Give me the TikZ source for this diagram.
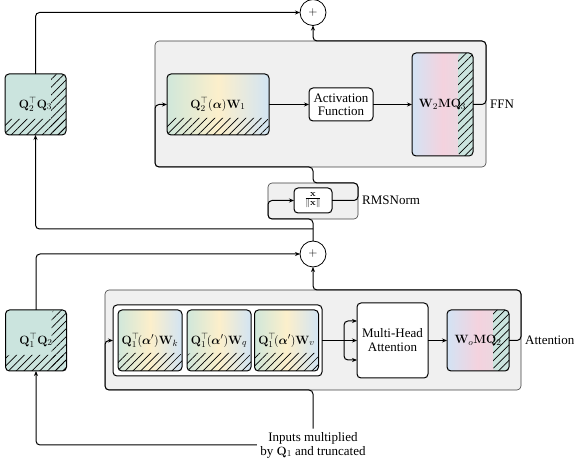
\documentclass[tikz,border=0pt]{standalone}
\usepackage{amsmath,bm}
\usepackage[no-math]{fontspec}
\setmainfont{Liberation Serif}
\usetikzlibrary{arrows.meta,patterns.meta,calc}
\definecolor{tealc}{HTML}{CBE4DE}
\definecolor{gA}{HTML}{D0E7DA}
\definecolor{gB}{HTML}{FCEFCB}
\definecolor{gC}{HTML}{D2E4F3}
\definecolor{pA}{HTML}{D3E3F4}
\definecolor{pB}{HTML}{F4D2DE}
\definecolor{pC}{HTML}{E3DCE2}
\definecolor{greyfill}{HTML}{F0F0F0}
\tikzset{
  sig/.style={line width=1pt, rounded corners=4pt},
  box/.style={draw, line width=1pt, rounded corners=4pt, inner sep=0pt, outer sep=0pt},
  greybox/.style={draw=black!75, line width=0.6pt, fill=greyfill, rounded corners=4pt, inner sep=0pt, outer sep=0pt},
  hatch/.style={pattern={Lines[angle=45,distance=5.5pt,line width=0.7pt]}},
  yelgrad/.style={left color=gA, right color=gC, middle color=gB},
  pinkgrad/.style={left color=pA, right color=pC, middle color=pB},
  bothatch/.style={path picture={\fill[hatch] (path picture bounding box.south west) rectangle ([yshift=#1]path picture bounding box.south east);}},
  righthatch/.style={path picture={\fill[tealc] ([xshift=-#1]path picture bounding box.north east) rectangle (path picture bounding box.south east);
     \fill[hatch] ([xshift=-#1]path picture bounding box.north east) rectangle (path picture bounding box.south east);}},
  lhatch/.style={fill=tealc, path picture={\fill[hatch] (path picture bounding box.south west) rectangle ([yshift=16pt]path picture bounding box.south east);
     \fill[hatch] ([xshift=-15pt]path picture bounding box.north east) rectangle (path picture bounding box.south east);}},
  plus/.style={draw, circle, line width=0.8pt, minimum size=26pt, inner sep=0pt, outer sep=0pt, fill=white},
  lbl/.style={anchor=west, inner sep=0pt}
}
\begin{document}
\begin{tikzpicture}[x=1pt,y=-1pt,font=\fontsize{13}{15}\selectfont,>={Stealth[length=5pt,width=4pt]}]
\useasboundingbox (0,0) rectangle (574,465);

% grey containers
\node[greybox, minimum width=331pt, minimum height=126pt] (ffnbox) at (320.5,104) {};
\node[greybox, minimum width=90pt, minimum height=36pt] (rmsbox) at (313,201) {};
\node[greybox, minimum width=416pt, minimum height=100pt] (attbox) at (313,340) {};

% top (FFN) part
\node[plus] (plusA) at (313,12.5) {$+$};
\node[box, lhatch, minimum width=61pt, minimum height=61pt] (q23) at (35.5,104.5) {$\mathbf{Q}_2^{\top}\mathbf{Q}_3$};
\node[box, yelgrad, bothatch=17pt, minimum width=102pt, minimum height=61pt] (w1) at (218,104.5) {$\mathbf{Q}_2^{\top}(\boldsymbol{\alpha})\mathbf{W}_1$};
\node[box, fill=white, align=center, minimum width=64pt, minimum height=33pt] (act) at (341,104.5) {Activation\\[-2pt]Function};
\node[box, pinkgrad, righthatch=15pt, minimum width=61pt, minimum height=103pt] (w2) at (442.5,104.5) {$\mathbf{W}_2\mathbf{M}\mathbf{Q}_3$};
\node[lbl] (ffnl) at (490,104.5) {FFN};

% RMSNorm
\node[box, fill=white, minimum width=38pt, minimum height=25pt] (rmsin) at (313,200.5) {$\frac{\mathbf{x}}{\|\mathbf{x}\|}$};
\node[lbl] (rmsl) at (362,200.5) {RMSNorm};

% bottom (attention) part
\node[plus] (plusB) at (313,254) {$+$};
\node[box, lhatch, minimum width=61pt, minimum height=61pt] (q12) at (36,340.5) {$\mathbf{Q}_1^{\top}\mathbf{Q}_2$};
\node[box, fill=white, minimum width=209pt, minimum height=71pt] (grp) at (217.5,340.5) {};
\node[box, yelgrad, bothatch=18pt, minimum width=64pt, minimum height=61pt] (wk) at (150,340.5) {$\mathbf{Q}_1^{\top}\!(\boldsymbol{\alpha}')\mathbf{W}_k$};
\node[box, yelgrad, bothatch=18pt, minimum width=64pt, minimum height=61pt] (wq) at (219,340.5) {$\mathbf{Q}_1^{\top}\!(\boldsymbol{\alpha}')\mathbf{W}_q$};
\node[box, yelgrad, bothatch=18pt, minimum width=64pt, minimum height=61pt] (wv) at (286.5,340.5) {$\mathbf{Q}_1^{\top}\!(\boldsymbol{\alpha}')\mathbf{W}_v$};
\node[box, fill=white, align=center, minimum width=71pt, minimum height=75pt] (mha) at (392.5,340.5) {Multi-Head\\[-1pt]Attention};
\node[box, pinkgrad, righthatch=16pt, minimum width=62pt, minimum height=61pt] (wo) at (478,340.5) {$\mathbf{W}_o\mathbf{M}\mathbf{Q}_2$};
\node[lbl] (attl) at (525,340.5) {Attention};
\node[align=center, font=\fontsize{13}{14}\selectfont] (inp) at (313,445) {Inputs multiplied\\by $\mathbf{Q}_1$ and truncated};

\coordinate (br) at (313,229);
\coordinate (fk) at (344,340.5);

% connectors: FFN block
\draw[sig,->] (q23.north) |- (plusA.west);
\draw[sig,->] (w1.east) -- (act.west);
\draw[sig,->] (act.east) -- (w2.west);
\draw[sig,->] (w2.east) -- (w2.east -| ffnbox.east) -- (ffnbox.north east) -- (ffnbox.north -| plusA.south) -- (plusA.south);
\draw[sig,->] (rmsin.east) -- (rmsin.east -| rmsbox.east) -- (rmsbox.north east) -- (rmsbox.north) -- (rmsbox.north |- ffnbox.south) -- (ffnbox.south west) -- (ffnbox.west |- w1.west) -- (w1.west);
\draw[sig,->] (plusB.north) -- (rmsbox.south) -- (rmsbox.south west) -- (rmsbox.west |- rmsin.west) -- (rmsin.west);
\draw[sig,->] (br) -| (q23.south);

% connectors: attention block
\draw[sig,->] (q12.north) |- (plusB.west);
\draw[sig,->] (wo.east) -- (wo.east -| attbox.east) -- (attbox.north east) -- (attbox.north -| plusB.south) -- (plusB.south);
\draw[sig,->] (inp.north) -- (inp.north |- attbox.south) -- (attbox.south west) -- (attbox.west |- grp.west) -- (grp.west);
\draw[sig,->] (inp.west) -| (q12.south);
\draw[sig,->] (grp.east) -- (mha.west);
\draw[sig,->] (fk) |- ([yshift=19.5pt]mha.west);
\draw[sig,->] (fk) |- ([yshift=-19.5pt]mha.west);
\draw[sig,->] (mha.east) -- (wo.west);
\end{tikzpicture}
\end{document}
